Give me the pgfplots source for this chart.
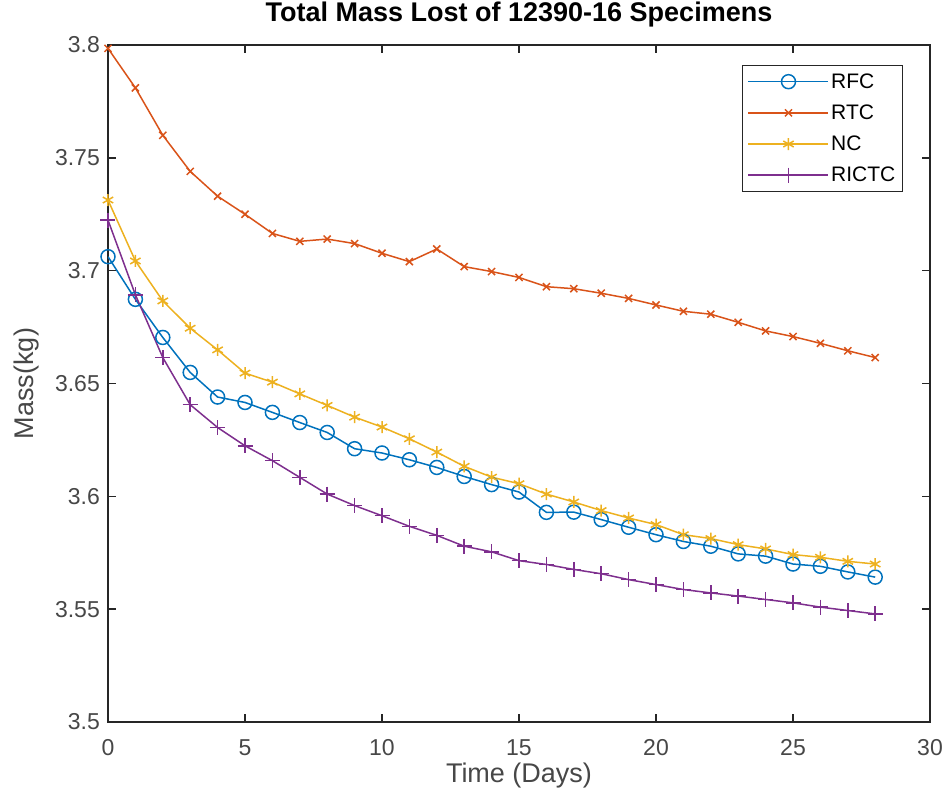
\documentclass[border=0pt]{standalone}
\usepackage{fontspec}
\setmainfont{Liberation Sans}
\usepackage{pgfplots}
\pgfplotsset{compat=1.18}
\definecolor{mblue}{rgb}{0,0.447,0.741}
\definecolor{morange}{rgb}{0.850,0.325,0.098}
\definecolor{myellow}{rgb}{0.929,0.694,0.125}
\definecolor{mpurple}{rgb}{0.494,0.184,0.556}
\definecolor{axgray}{rgb}{0.15,0.15,0.15}
\begin{document}
\begin{tikzpicture}
\useasboundingbox (-108pt,-81pt) rectangle (839pt,722pt);
\begin{axis}[
  at={(0pt,0pt)}, anchor=south west,
  scale only axis, width=822pt, height=677pt,
  xmin=0, xmax=30, ymin=3.5, ymax=3.8,
  xtick={0,5,...,30},
  ytick={3.5,3.55,3.6,3.65,3.7,3.75,3.8},
  yticklabels={3.5,3.55,3.6,3.65,3.7,3.75,3.8},
  xticklabels={0,5,10,15,20,25,30},
  tick align=inside, major tick length=8pt,
  axis line style={axgray, line width=1.5pt},
  every tick/.style={axgray, line width=1.5pt},
  tick label style={font=\fontsize{23}{26}\selectfont, text=axgray!85},
  xticklabel style={anchor=base, yshift=-33pt, inner sep=0pt},
  yticklabel style={anchor=east, xshift=-8pt, inner sep=0pt},
  /pgf/number format/assume math mode=true,
  title={\bfseries Total Mass Lost of 12390-16 Specimens},
  title style={font=\fontsize{27}{30}\selectfont, at={(axis description cs:0.5,1)}, anchor=base, yshift=17pt, inner sep=0pt},
  xlabel={Time (Days)},
  xlabel style={font=\fontsize{27}{30}\selectfont, text=axgray!85, at={(axis description cs:0.5,0)}, anchor=base, yshift=-60pt, inner sep=0pt},
  ylabel={Mass(kg)},
  ylabel style={font=\fontsize{27}{30}\selectfont, text=axgray!85, at={(axis description cs:0,0.5)}, anchor=base, yshift=74pt, inner sep=0pt},
  legend style={at={(axis description cs:1,1)}, anchor=north east, xshift=-27pt, yshift=-20pt,
    font=\fontsize{21}{24}\selectfont, draw=axgray, line width=1.2pt, inner xsep=5pt, inner ysep=6pt,
    row sep=11pt, cells={anchor=west}},
  legend image code/.code={
    \draw[mark repeat=2,mark phase=2] plot coordinates {(0pt,0pt) (40pt,0pt) (80pt,0pt)};
  },
]
\addplot[mblue, line width=1.5pt, mark=o, mark size=7pt, mark options={line width=1.5pt}] coordinates {
(0,3.7062)(1,3.6873)(2,3.6704)(3,3.6549)(4,3.6440)(5,3.6416)(6,3.6372)(7,3.6327)
(8,3.6283)(9,3.6211)(10,3.6192)(11,3.6162)(12,3.6128)(13,3.6088)(14,3.6052)(15,3.6019)
(16,3.5929)(17,3.5930)(18,3.5897)(19,3.5863)(20,3.5830)(21,3.5800)(22,3.5779)(23,3.5745)
(24,3.5735)(25,3.5700)(26,3.5690)(27,3.5665)(28,3.5642)};
\addlegendentry{RFC}
\addplot[morange, line width=1.5pt, mark=x, mark size=5pt, mark options={line width=1.5pt}] coordinates {
(0,3.7985)(1,3.7810)(2,3.7600)(3,3.7440)(4,3.7330)(5,3.7250)(6,3.7165)(7,3.7130)
(8,3.7140)(9,3.7120)(10,3.7077)(11,3.7040)(12,3.7096)(13,3.7018)(14,3.6996)(15,3.6970)
(16,3.6929)(17,3.6920)(18,3.6900)(19,3.6877)(20,3.6848)(21,3.6820)(22,3.6807)(23,3.6771)
(24,3.6733)(25,3.6708)(26,3.6678)(27,3.6645)(28,3.6615)};
\addlegendentry{RTC}
\addplot[myellow, line width=1.5pt, mark=asterisk, mark size=6pt, mark options={line width=1.5pt}] coordinates {
(0,3.7313)(1,3.7043)(2,3.6866)(3,3.6745)(4,3.6649)(5,3.6546)(6,3.6506)(7,3.6454)
(8,3.6403)(9,3.6351)(10,3.6307)(11,3.6255)(12,3.6196)(13,3.6133)(14,3.6085)(15,3.6056)
(16,3.6010)(17,3.5975)(18,3.5937)(19,3.5904)(20,3.5875)(21,3.5830)(22,3.5813)(23,3.5786)
(24,3.5767)(25,3.5742)(26,3.5730)(27,3.5712)(28,3.5700)};
\addlegendentry{NC}
\addplot[mpurple, line width=1.5pt, mark=+, mark size=7.5pt, mark options={line width=1.5pt}] coordinates {
(0,3.7224)(1,3.6893)(2,3.6615)(3,3.6406)(4,3.6305)(5,3.6224)(6,3.6158)(7,3.6084)
(8,3.6010)(9,3.5959)(10,3.5914)(11,3.5867)(12,3.5827)(13,3.5779)(14,3.5754)(15,3.5715)
(16,3.5698)(17,3.5676)(18,3.5657)(19,3.5631)(20,3.5609)(21,3.5587)(22,3.5572)(23,3.5558)
(24,3.5543)(25,3.5528)(26,3.5509)(27,3.5494)(28,3.5479)};
\addlegendentry{RICTC}
\end{axis}
\end{tikzpicture}
\end{document}
